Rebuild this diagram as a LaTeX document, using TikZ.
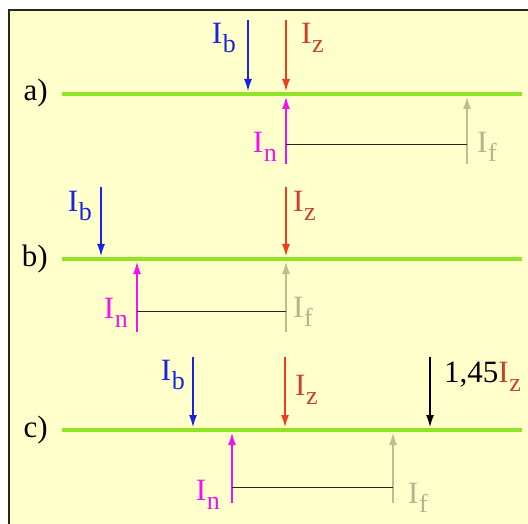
\documentclass[tikz,border=0pt]{standalone}
\usepackage{fontspec}
\setmainfont{Liberation Serif}
\usetikzlibrary{arrows.meta}

\definecolor{paper}{RGB}{255,255,204}
\definecolor{frame}{RGB}{40,40,30}
\definecolor{lime}{RGB}{145,228,35}
\definecolor{ibcol}{RGB}{25,35,225}
\definecolor{izcol}{RGB}{238,62,25}
\definecolor{iztext}{RGB}{200,65,40}
\definecolor{incol}{RGB}{240,20,235}
\definecolor{ifcol}{RGB}{190,190,140}
\definecolor{iftext}{RGB}{182,178,140}

% current label: I with a lowered subscript
\newcommand{\cur}[1]{I\kern0.02em\raisebox{-9pt}{\fontsize{26}{26}\selectfont #1}}

\tikzset{
    busline/.style={line width=3.5pt, draw=lime},
    ibarrow/.style={->, line width=1.1pt, draw=ibcol, fill=ibcol},
    izarrow/.style={->, line width=1.1pt, draw=izcol, fill=izcol},
    inarrow/.style={->, line width=1.1pt, draw=incol, fill=incol},
    ifarrow/.style={->, line width=1.1pt, draw=ifcol, fill=ifcol},
    karrow/.style={->, line width=1.1pt, draw=black},
    gapline/.style={line width=0.9pt, draw=black!85},
    lbl/.style={inner sep=0pt}
}

\begin{document}
\begin{tikzpicture}[x=1pt, y=-1pt, >={Latex[length=12pt,width=8pt]},
    font=\fontsize{31}{33}\selectfont]
    \useasboundingbox (0,0) rectangle (528,524);
    \fill[white] (0,0) rectangle (528,524);
    \draw[line width=2pt, draw=frame, fill=paper] (9,10) rectangle (536,532);

    % case a)
    \begin{scope}[shift={(0,94)}]
        \node[lbl, anchor=base east] (a-tag) at (48,7) {a)};
        \coordinate (a-w) at (62,0);
        \coordinate (a-e) at (522,0);
        \draw[busline] (a-w) -- (a-e);
        \coordinate (a-b1) at (248,-74); \coordinate (a-b2) at (248,-3);
        \coordinate (a-z1) at (286,-74); \coordinate (a-z2) at (286,-3);
        \coordinate (a-n1) at (286,70);  \coordinate (a-n2) at (286,3);
        \coordinate (a-f1) at (467,70);  \coordinate (a-f2) at (467,3);
        \draw[ibarrow] (a-b1) -- (a-b2);
        \draw[izarrow] (a-z1) -- (a-z2);
        \draw[inarrow] (a-n1) -- (a-n2);
        \draw[ifarrow] (a-f1) -- (a-f2);
        \coordinate (a-g1) at (286,50); \coordinate (a-g2) at (467,50);
        \draw[gapline] (a-g1) -- (a-g2);
        \node[lbl, anchor=base east, text=ibcol] (a-ib) at (236,-50) {\cur{b}};
        \node[lbl, anchor=base west, text=iztext] (a-iz) at (301,-50) {\cur{z}};
        \node[lbl, anchor=base east, text=incol] (a-in) at (277,59) {\cur{n}};
        \node[lbl, anchor=base west, text=iftext] (a-if) at (477,59) {\cur{f}};
    \end{scope}

    % case b)
    \begin{scope}[shift={(0,259)}]
        \node[lbl, anchor=base east] (b-tag) at (48,7) {b)};
        \coordinate (b-w) at (62,0);
        \coordinate (b-e) at (522,0);
        \draw[busline] (b-w) -- (b-e);
        \coordinate (b-b1) at (101,-72); \coordinate (b-b2) at (101,-3);
        \coordinate (b-z1) at (286,-72); \coordinate (b-z2) at (286,-3);
        \coordinate (b-n1) at (137,73);  \coordinate (b-n2) at (137,3);
        \coordinate (b-f1) at (286,73);  \coordinate (b-f2) at (286,3);
        \draw[ibarrow] (b-b1) -- (b-b2);
        \draw[izarrow] (b-z1) -- (b-z2);
        \draw[inarrow] (b-n1) -- (b-n2);
        \draw[ifarrow] (b-f1) -- (b-f2);
        \coordinate (b-g1) at (137,52); \coordinate (b-g2) at (286,52);
        \draw[gapline] (b-g1) -- (b-g2);
        \node[lbl, anchor=base east, text=ibcol] (b-ib) at (92,-47) {\cur{b}};
        \node[lbl, anchor=base west, text=iztext] (b-iz) at (293,-47) {\cur{z}};
        \node[lbl, anchor=base east, text=incol] (b-in) at (128,59) {\cur{n}};
        \node[lbl, anchor=base west, text=iftext] (b-if) at (293,58) {\cur{f}};
    \end{scope}

    % case c)
    \begin{scope}[shift={(0,430)}]
        \node[lbl, anchor=base east] (c-tag) at (48,7) {c)};
        \coordinate (c-w) at (62,0);
        \coordinate (c-e) at (522,0);
        \draw[busline] (c-w) -- (c-e);
        \coordinate (c-b1) at (193,-73); \coordinate (c-b2) at (193,-3);
        \coordinate (c-z1) at (285,-73); \coordinate (c-z2) at (285,-3);
        \coordinate (c-k1) at (430,-73); \coordinate (c-k2) at (430,-3);
        \coordinate (c-n1) at (232,73);  \coordinate (c-n2) at (232,3);
        \coordinate (c-f1) at (393,73);  \coordinate (c-f2) at (393,3);
        \draw[ibarrow] (c-b1) -- (c-b2);
        \draw[izarrow] (c-z1) -- (c-z2);
        \draw[karrow] (c-k1) -- (c-k2);
        \draw[inarrow] (c-n1) -- (c-n2);
        \draw[ifarrow] (c-f1) -- (c-f2);
        \coordinate (c-g1) at (232,57); \coordinate (c-g2) at (393,57);
        \draw[gapline] (c-g1) -- (c-g2);
        \node[lbl, anchor=base east, text=ibcol] (c-ib) at (185,-50) {\cur{b}};
        \node[lbl, anchor=base west, text=iztext] (c-iz) at (295,-35) {\cur{z}};
        \node[lbl, anchor=base west] (c-ik) at (444,-48) {1,45\textcolor{iztext}{\cur{z}}};
        \node[lbl, anchor=base east, text=incol] (c-in) at (220,70) {\cur{n}};
        \node[lbl, anchor=base west, text=iftext] (c-if) at (408,73) {\cur{f}};
    \end{scope}
\end{tikzpicture}
\end{document}
